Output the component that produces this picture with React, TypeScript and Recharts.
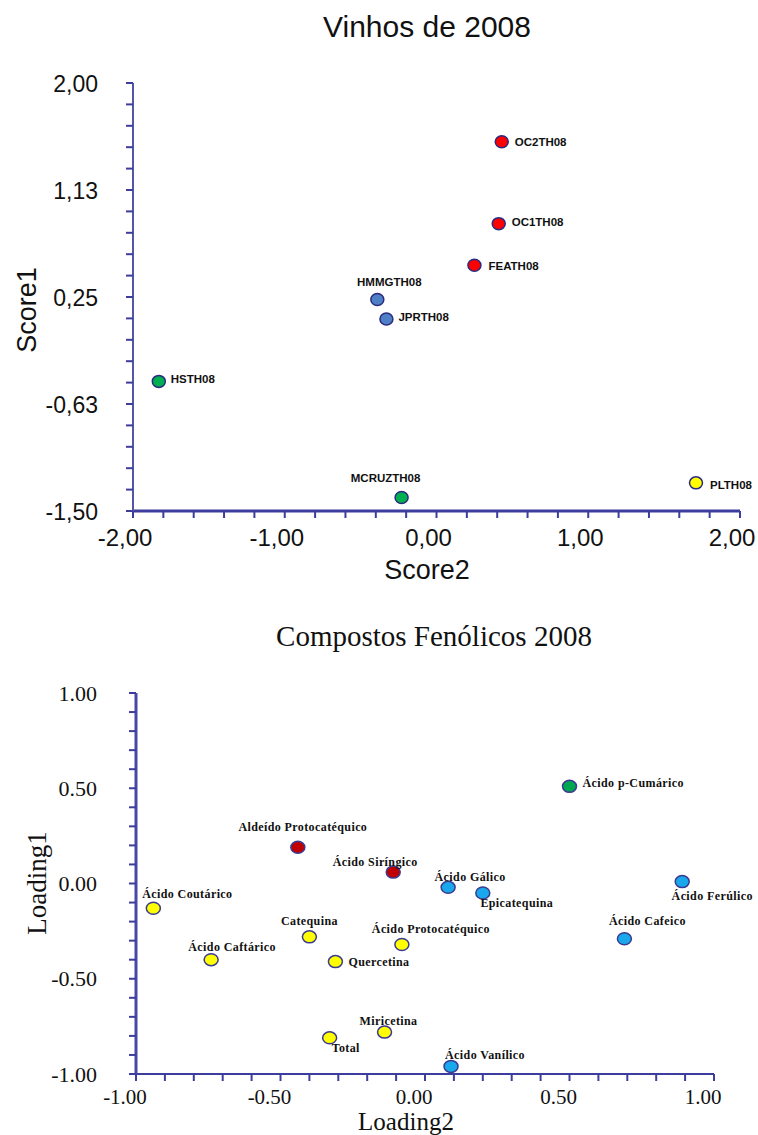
import React from 'react';
import { ScatterChart, Scatter, XAxis, YAxis, Label } from 'recharts';

// Vinhos de 2008 (scores)
const wineNames = ['OC2TH08', 'OC1TH08', 'FEATH08', 'HMMGTH08', 'JPRTH08', 'HSTH08', 'MCRUZTH08', 'PLTH08'];
const wineScore2 = [0.43, 0.41, 0.25, -0.39, -0.33, -1.83, -0.23, 1.71];
const wineScore1 = [1.52, 0.85, 0.51, 0.23, 0.07, -0.44, -1.39, -1.27];
const wineGroup = ['red', 'red', 'red', 'blue', 'blue', 'green', 'green', 'yellow'];
const scoreXMajor = [-2, -1, 0, 1, 2];
const scoreYMajor = [-1.5, -0.625, 0.25, 1.125, 2];

// Compostos Fenólicos 2008 (loadings)
const compoundNames = [
	'Ácido p-Cumárico', 'Aldeído Protocatéquico', 'Ácido Siríngico', 'Ácido Gálico', 'Epicatequina',
	'Ácido Ferúlico', 'Ácido Cafeico', 'Ácido Protocatéquico', 'Ácido Coutárico', 'Catequina',
	'Ácido Caftárico', 'Quercetina', 'Total', 'Miricetina', 'Ácido Vanílico',
];
const compoundLoading2 = [0.5, -0.44, -0.11, 0.08, 0.2, 0.89, 0.69, -0.08, -0.94, -0.4, -0.74, -0.31, -0.33, -0.14, 0.09];
const compoundLoading1 = [0.51, 0.19, 0.06, -0.02, -0.05, 0.01, -0.29, -0.32, -0.13, -0.28, -0.4, -0.41, -0.81, -0.78, -0.96];
const compoundGroup = ['green', 'red', 'red', 'blue', 'blue', 'blue', 'blue', 'yellow', 'yellow', 'yellow', 'yellow', 'yellow', 'yellow', 'yellow', 'blue'];
const loadingMajor = [-1, -0.5, 0, 0.5, 1];

const wineColors: { [g: string]: string } = { red: '#ff0000', blue: '#4f7fc4', green: '#00b050', yellow: '#ffff00' };
const compoundColors: { [g: string]: string } = { red: '#c00000', blue: '#1aa8ec', green: '#00a650', yellow: '#ffff00' };

// label placement relative to the marker: [anchor, dx, dy]
const wineLabelPos: { [n: string]: [string, number, number] } = {
	OC2TH08: ['start', 13, 0],
	OC1TH08: ['start', 13, -2],
	FEATH08: ['start', 14, 1],
	HMMGTH08: ['middle', 12, -17],
	JPRTH08: ['start', 12, -2],
	HSTH08: ['start', 12, -2],
	MCRUZTH08: ['middle', -16, -20],
	PLTH08: ['start', 14, 2],
};
const compoundLabelPos: { [n: string]: [string, number, number] } = {
	'Ácido p-Cumárico': ['start', 13, -3],
	'Aldeído Protocatéquico': ['middle', 5, -20],
	'Ácido Siríngico': ['middle', -18, -10],
	'Ácido Gálico': ['middle', 22, -10],
	'Epicatequina': ['middle', 34, 10],
	'Ácido Ferúlico': ['middle', 30, 14],
	'Ácido Cafeico': ['middle', 23, -18],
	'Ácido Protocatéquico': ['middle', 29, -15],
	'Ácido Coutárico': ['middle', 34, -14],
	'Catequina': ['middle', 0, -16],
	'Ácido Caftárico': ['middle', 21, -13],
	'Quercetina': ['start', 13, 0],
	'Total': ['start', 2, 10],
	'Miricetina': ['middle', 4, -11],
	'Ácido Vanílico': ['middle', 34, -11],
};

const wineData = wineNames.map((name, i) => ({ name, x: wineScore2[i], y: wineScore1[i], group: wineGroup[i] }));
const compoundData = compoundNames.map((name, i) => ({
	name, x: compoundLoading2[i], y: compoundLoading1[i], group: compoundGroup[i],
}));

// 5 minor steps between each pair of major ticks
function withMinor(majors: number[]): number[] {
	const out: number[] = [];
	for (let i = 0; i < majors.length - 1; i++) {
		const step = (majors[i + 1] - majors[i]) / 5;
		for (let k = 0; k < 5; k++) out.push(majors[i] + step * k);
	}
	out.push(majors[majors.length - 1]);
	return out;
}

const isMajor = (v: number, majors: number[]) => majors.some(m => Math.abs(m - v) < 1e-6);

const AXIS = '#3d3d9e';
const SANS = '"Liberation Sans", Arial, sans-serif';
const SERIF = '"Liberation Serif", "Times New Roman", serif';

function WineShape(props: any) {
	const { cx, cy, payload } = props;
	const [anchor, dx, dy] = wineLabelPos[payload.name];
	return (
		<g>
			<ellipse cx={cx} cy={cy} rx={6.5} ry={6} fill={wineColors[payload.group]} stroke="#2a2a80" strokeWidth={1.5} />
			<text x={cx + dx} y={cy + dy} textAnchor={anchor as any} dominantBaseline="central"
				fontFamily={SANS} fontWeight="bold" fontSize={11.5} fill="#111">
				{payload.name}
			</text>
		</g>
	);
}

function CompoundShape(props: any) {
	const { cx, cy, payload } = props;
	const [anchor, dx, dy] = compoundLabelPos[payload.name];
	return (
		<g>
			<ellipse cx={cx} cy={cy} rx={7} ry={6} fill={compoundColors[payload.group]} stroke="#3a3a90" strokeWidth={1.5} />
			<text x={cx + dx} y={cy + dy} textAnchor={anchor as any} dominantBaseline="central"
				fontFamily={SERIF} fontWeight="bold" fontSize={12} letterSpacing={0.4} fill="#111">
				{payload.name}
			</text>
		</g>
	);
}

function makeTick(majors: number[], side: 'x' | 'y', font: string, size: number, comma: boolean, off: number, shift: number) {
	return (props: any) => {
		const { x, y, payload } = props;
		if (!isMajor(payload.value, majors)) return <g />;
		let label = payload.value.toFixed(2);
		if (comma) label = label.replace('.', ',');
		if (side === 'y') {
			return (
				<text x={x - off} y={y + shift} textAnchor="end" dominantBaseline="central" fontFamily={font} fontSize={size} fill="#111">
					{label}
				</text>
			);
		}
		return (
			<text x={x + shift} y={y + off} textAnchor="middle" fontFamily={font} fontSize={size} fill="#111">
				{label}
			</text>
		);
	};
}

export default function App() {
	return (
		<div style={{ position: 'absolute', left: 0, top: 0, width: 758, height: 1135, background: '#fff' }}>
			<div style={{ position: 'absolute', left: 427, top: 12, transform: 'translateX(-50%)', whiteSpace: 'nowrap',
				fontFamily: SANS, fontSize: 30, lineHeight: '30px', color: '#111' }}>
				Vinhos de 2008
			</div>
			<div style={{ position: 'absolute', left: 0, top: 0 }}>
				<ScatterChart width={758} height={600} margin={{ top: 83, right: 18, left: 0, bottom: 0 }}>
					<XAxis type="number" dataKey="x" domain={[-2, 2]} ticks={withMinor(scoreXMajor)} interval={0}
						height={89} axisLine={{ stroke: AXIS, strokeWidth: 3 }} tickLine={{ stroke: AXIS, strokeWidth: 2 }}
						tickSize={7} tick={makeTick(scoreXMajor, 'x', SANS, 24, true, 26, -8)}>
						<Label content={() => (
							<text x={427} y={579} textAnchor="middle" fontFamily={SANS} fontSize={27} fill="#111">Score2</text>
						)} />
					</XAxis>
					<YAxis type="number" dataKey="y" domain={[-1.5, 2]} ticks={withMinor(scoreYMajor)} interval={0}
						width={133} axisLine={{ stroke: '#5555aa', strokeWidth: 2 }} tickLine={{ stroke: AXIS, strokeWidth: 2 }}
						tickSize={7} tick={makeTick(scoreYMajor, 'y', SANS, 23, true, 26, 1)}>
						<Label content={() => (
							<text x={36} y={310} transform="rotate(-90 36 310)" textAnchor="middle" fontFamily={SANS} fontSize={27} fill="#111">Score1</text>
						)} />
					</YAxis>
					<Scatter data={wineData} shape={<WineShape />} isAnimationActive={false} />
				</ScatterChart>
			</div>

			<div style={{ position: 'absolute', left: 434, top: 622, transform: 'translateX(-50%)', whiteSpace: 'nowrap',
				fontFamily: SERIF, fontSize: 29, lineHeight: '29px', color: '#111' }}>
				Compostos Fenólicos 2008
			</div>
			<div style={{ position: 'absolute', left: 0, top: 600 }}>
				<ScatterChart width={758} height={535} margin={{ top: 93, right: 44, left: 0, bottom: 0 }}>
					<XAxis type="number" dataKey="x" domain={[-1, 1]} ticks={withMinor(loadingMajor)} interval={0}
						height={61} axisLine={{ stroke: AXIS, strokeWidth: 2 }} tickLine={{ stroke: AXIS, strokeWidth: 2 }}
						tickSize={7} tick={makeTick(loadingMajor, 'x', SERIF, 21, false, 21, -11)}>
						<Label content={() => (
							<text x={406} y={530} textAnchor="middle" fontFamily={SERIF} fontSize={25} fill="#111">Loading2</text>
						)} />
					</XAxis>
					<YAxis type="number" dataKey="y" domain={[-1, 1]} ticks={withMinor(loadingMajor)} interval={0}
						width={136} axisLine={{ stroke: '#4848a8', strokeWidth: 3 }} tickLine={{ stroke: AXIS, strokeWidth: 2 }}
						tickSize={7} tick={makeTick(loadingMajor, 'y', SERIF, 22, false, 30, 0)}>
						<Label content={() => (
							<text x={46} y={283} transform="rotate(-90 46 283)" textAnchor="middle" fontFamily={SERIF} fontSize={27} fill="#111">Loading1</text>
						)} />
					</YAxis>
					<Scatter data={compoundData} shape={<CompoundShape />} isAnimationActive={false} />
				</ScatterChart>
			</div>
		</div>
	);
}
